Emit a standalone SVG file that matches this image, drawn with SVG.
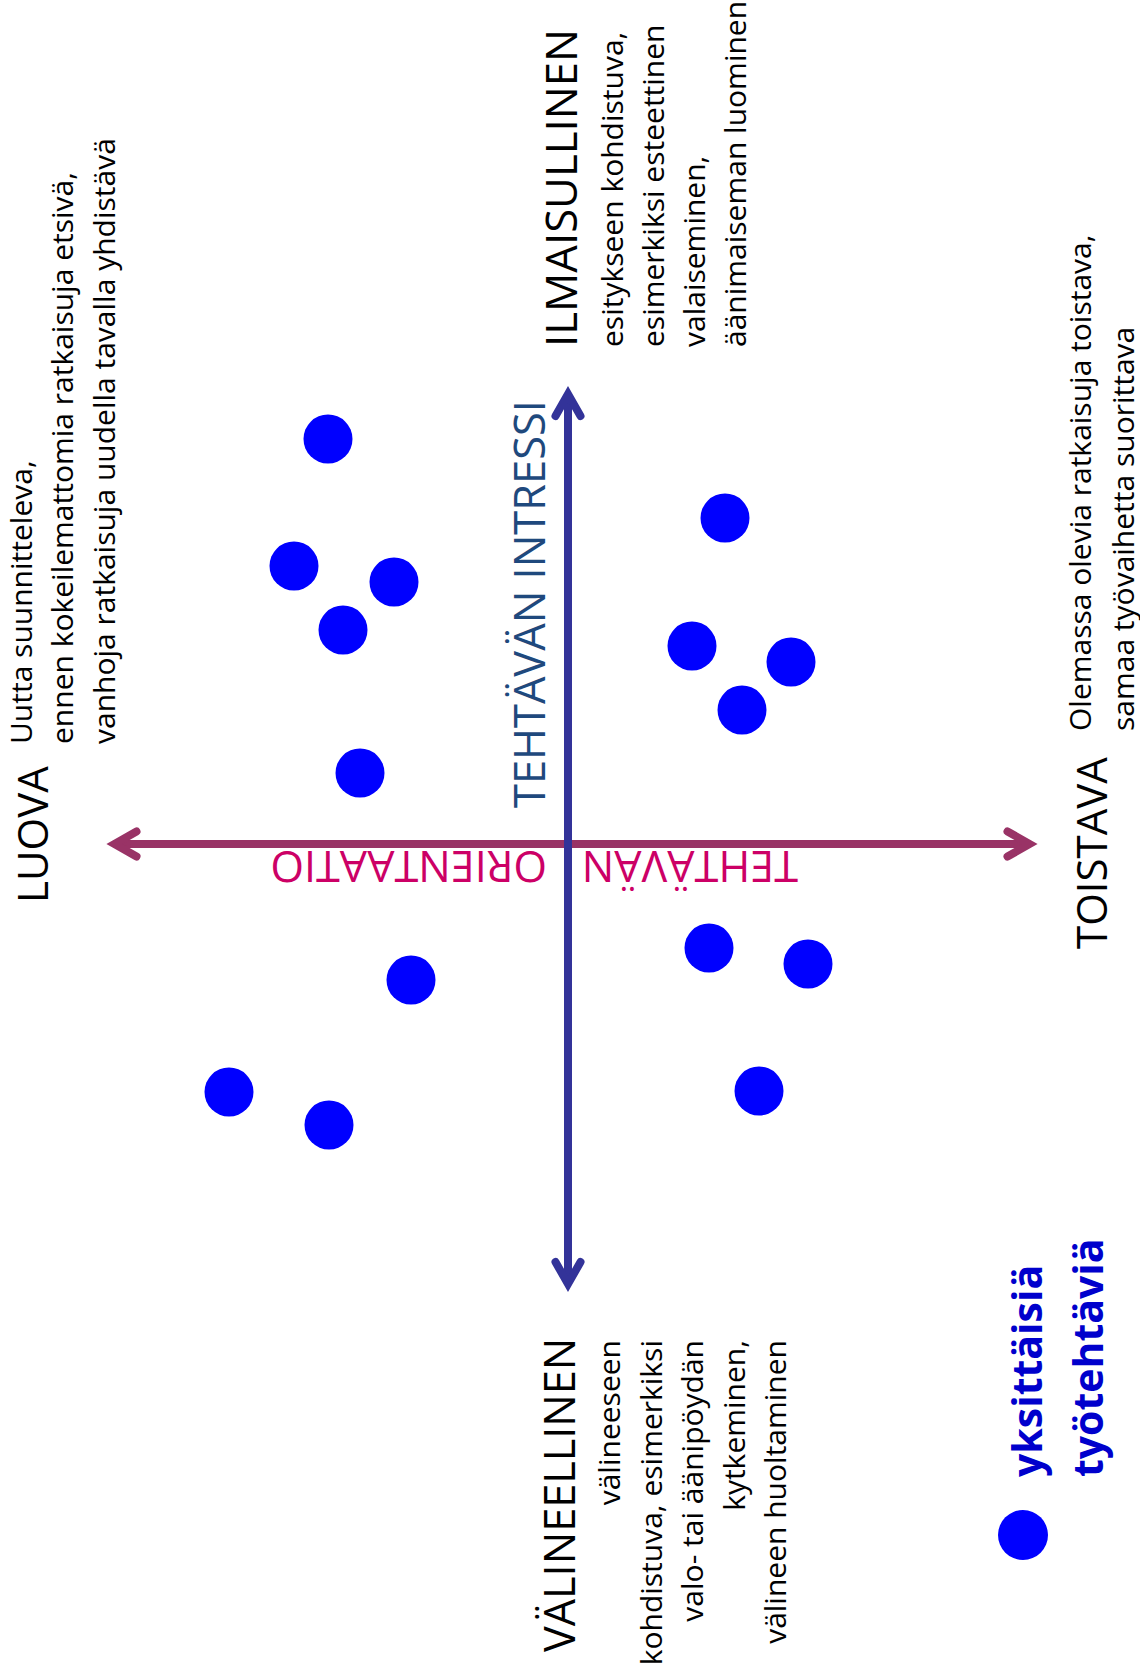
<svg xmlns="http://www.w3.org/2000/svg" width="1140" height="1666" viewBox="0 0 1140 1666">
  <style>
    text { font-family: "Open Sans", "Liberation Sans", sans-serif; }
    .label { font-size: 42px; fill: #000000; }
    .desc { font-size: 30px; fill: #000000; }
    .axis-h { stroke: #993366; stroke-width: 8; fill: none; }
    .axis-v { stroke: #333399; stroke-width: 8; fill: none; }
    .task { fill: #0000FF; }
    .intressi { font-size: 43.4px; fill: #1F497D; }
    .orientaatio { font-size: 43.2px; fill: #CC0066; }
    .legend { font-size: 41px; font-weight: bold; fill: #0000CC; }
  </style>
  <defs>
    <marker id="head-h" markerUnits="userSpaceOnUse" viewBox="-40 -30 60 60" refX="0" refY="0" markerWidth="60" markerHeight="60" orient="auto-start-reverse">
      <path d="M-22,-12.5 L0,0 L-22,12.5" fill="none" stroke="#993366" stroke-width="8" stroke-linecap="round" stroke-linejoin="miter"/>
    </marker>
    <marker id="head-v" markerUnits="userSpaceOnUse" viewBox="-40 -30 60 60" refX="0" refY="0" markerWidth="60" markerHeight="60" orient="auto-start-reverse">
      <path d="M-22,-12.5 L0,0 L-22,12.5" fill="none" stroke="#333399" stroke-width="8" stroke-linecap="round" stroke-linejoin="miter"/>
    </marker>
  </defs>
  <rect width="1140" height="1666" fill="#FFFFFF"/>

  <!-- axes -->
  <g id="connectors">
    <line class="axis-h" x1="114.5" y1="844" x2="1029.5" y2="844" marker-start="url(#head-h)" marker-end="url(#head-h)"/>
    <line class="axis-v" x1="568" y1="1284" x2="568" y2="394" marker-start="url(#head-v)" marker-end="url(#head-v)"/>
  </g>

  <!-- axis titles -->
  <g id="axis-intressi">
    <text class="intressi" transform="translate(545,808) rotate(-90)">TEHTÄVÄN INTRESSI</text>
  </g>
  <g id="axis-orientaatio">
    <text class="orientaatio" transform="translate(798,851) rotate(180)">TEHTÄVÄN</text>
    <text class="orientaatio" transform="translate(547,851) rotate(180)">ORIENTAATIO</text>
  </g>

  <!-- pole: LUOVA -->
  <g id="pole-luova">
    <text class="label" transform="translate(48,903) rotate(-90)">LUOVA</text>
    <text class="desc" transform="translate(32,744) rotate(-90)">Uutta suunnitteleva,</text>
    <text class="desc" transform="translate(73,744) rotate(-90)">ennen kokeilemattomia ratkaisuja etsivä,</text>
    <text class="desc" transform="translate(115,744) rotate(-90)">vanhoja ratkaisuja uudella tavalla yhdistävä</text>
  </g>

  <!-- pole: ILMAISULLINEN -->
  <g id="pole-ilmaisullinen">
    <text class="label" transform="translate(577,347) rotate(-90)" style="font-size:43.7px">ILMAISULLINEN</text>
    <text class="desc" transform="translate(623,347) rotate(-90)">esitykseen kohdistuva,</text>
    <text class="desc" transform="translate(664,347) rotate(-90)">esimerkiksi esteettinen</text>
    <text class="desc" transform="translate(705,347) rotate(-90)">valaiseminen,</text>
    <text class="desc" transform="translate(746,347) rotate(-90)">äänimaiseman luominen</text>
  </g>

  <!-- pole: TOISTAVA -->
  <g id="pole-toistava">
    <text class="label" transform="translate(1107,949) rotate(-90)">TOISTAVA</text>
    <text class="desc" transform="translate(1091,731) rotate(-90)">Olemassa olevia ratkaisuja toistava,</text>
    <text class="desc" transform="translate(1134,731) rotate(-90)">samaa työvaihetta suorittava</text>
  </g>

  <!-- pole: VÄLINEELLINEN -->
  <g id="pole-valineellinen">
    <text class="label" transform="translate(575,1652) rotate(-90)" style="font-size:43.2px">VÄLINEELLINEN</text>
    <g text-anchor="end">
      <text class="desc" transform="translate(620,1340) rotate(-90)">välineeseen</text>
      <text class="desc" transform="translate(662,1340) rotate(-90)">kohdistuva, esimerkiksi</text>
      <text class="desc" transform="translate(703,1340) rotate(-90)">valo- tai äänipöydän</text>
      <text class="desc" transform="translate(745,1340) rotate(-90)">kytkeminen,</text>
      <text class="desc" transform="translate(786,1340) rotate(-90)">välineen huoltaminen</text>
    </g>
  </g>

  <!-- individual tasks -->
  <g id="tasks">
    <circle class="task" cx="328" cy="439" r="24.5"/>
    <circle class="task" cx="294" cy="566" r="24.5"/>
    <circle class="task" cx="394" cy="582" r="24.5"/>
    <circle class="task" cx="343" cy="630" r="24.5"/>
    <circle class="task" cx="360" cy="773" r="24.5"/>
    <circle class="task" cx="411" cy="980" r="24.5"/>
    <circle class="task" cx="229" cy="1092" r="24.5"/>
    <circle class="task" cx="329" cy="1125" r="24.5"/>
    <circle class="task" cx="725" cy="518" r="24.5"/>
    <circle class="task" cx="692" cy="646" r="24.5"/>
    <circle class="task" cx="791" cy="662" r="24.5"/>
    <circle class="task" cx="742" cy="710" r="24.5"/>
    <circle class="task" cx="709" cy="948" r="24.5"/>
    <circle class="task" cx="808" cy="964" r="24.5"/>
    <circle class="task" cx="759" cy="1091" r="24.5"/>
  </g>

  <!-- legend -->
  <g id="legend">
    <circle class="task" cx="1023" cy="1535" r="25"/>
    <text class="legend" transform="translate(1042,1477) rotate(-90)">yksittäisiä</text>
    <text class="legend" transform="translate(1103,1477) rotate(-90)">työtehtäviä</text>
  </g>
</svg>
